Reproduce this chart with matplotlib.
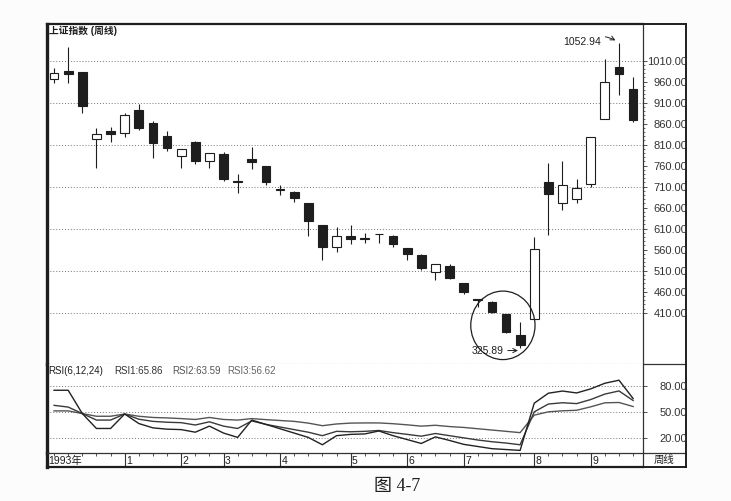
import numpy as np
import matplotlib
matplotlib.use('Agg')
import matplotlib.pyplot as plt
from matplotlib.patches import Ellipse
from matplotlib.ticker import FixedLocator, FormatStrFormatter

plt.rcParams['font.family'] = ['Liberation Sans', 'Noto Sans CJK SC']

# weekly candles
opens = [966, 985, 982, 824, 843, 838, 893, 862, 831, 783, 816, 770, 787, 722,
         776, 758, 705, 698, 670, 619, 566, 593, 588, 597, 593, 563, 547, 508,
         521, 481, 443, 436, 406, 357, 394, 720, 670, 680, 716, 870, 994, 943]
highs = [993, 1043, 982, 850, 853, 885, 907, 866, 843, 799, 818, 790, 793, 740,
         805, 758, 714, 700, 670, 619, 613, 619, 600, 598, 595, 564, 550, 525,
         526, 481, 443, 439, 406, 389, 590, 766, 771, 728, 829, 1013, 1052.94, 970]
lows = [957, 957, 885, 754, 817, 827, 845, 779, 795, 754, 764, 754, 724, 694,
        752, 714, 690, 674, 593, 535, 555, 574, 577, 575, 567, 535, 512, 488,
        490, 455, 424, 410, 361, 325.89, 394, 595, 654, 670, 710, 870, 928, 863]
closes = [981, 978, 903, 835, 836, 881, 850, 815, 801, 799, 772, 790, 728, 721,
          768, 722, 703, 682, 628, 567, 593, 586, 586, 597, 574, 549, 516, 525,
          493, 460, 440, 412, 365, 333, 562, 692, 714, 706, 829, 960, 978, 869]

rsi1 = [75.4, 75.4, 48.5, 31.3, 31.3, 48, 37, 32, 30.5, 30, 27, 34, 26, 21,
        41, 36, 31, 26, 21, 12.5, 23, 24.5, 25, 28.4, 23, 18.5, 14, 21.6,
        17.5, 13, 10.5, 8, 7, 6, 60.5, 72, 74.5, 72.3, 77, 83.5, 87, 65.86]
rsi2 = [58, 56, 48.5, 41, 41, 48, 42, 39.5, 38.5, 38, 35.3, 39, 34, 31.3,
        40, 36, 33, 30, 27, 23, 28, 27.5, 28, 29, 26.5, 24.5, 22.4, 25.5,
        23, 20.5, 18, 16, 14.5, 12.5, 50.5, 59.5, 61, 60, 64.7, 71, 74.6, 63.59]
rsi3 = [51.6, 51.6, 48.5, 45.4, 45.4, 48, 45.4, 44, 43.5, 42.7, 41.7, 44, 41.7, 41,
        42.7, 41.5, 40.5, 39.5, 37.5, 34.5, 36.5, 37.5, 37.7, 37.7, 36.8, 35.5, 34, 35,
        33.5, 32.5, 31, 29.5, 28, 26.5, 46.7, 50.5, 51.7, 52.3, 56.3, 60.9, 61.3, 56.62]

month_pos = [5, 9, 12, 16, 21, 25, 29, 34, 38]
month_labels = ['1', '2', '3', '4', '5', '6', '7', '8', '9']
price_ticks = list(range(410, 1011, 50))
price_grid = list(range(410, 1011, 100))
rsi_ticks = [20, 50, 80]

W, H = 731, 501
def box(l, t, r, b):
    return [l / W, 1 - b / H, (r - l) / W, (b - t) / H]

ink = '#1e1e1e'
dots = (0, (1, 2))
grid_c = '#777'

fig = plt.figure(figsize=(7.31, 5.01), dpi=100)
fig.patch.set_facecolor('#fcfcfc')

# right label column
side = fig.add_axes(box(643, 24, 686, 467))
side.set_xlim(0, 1)
side.set_ylim(467, 24)
side.set_xticks([])
side.set_yticks([])
for s in side.spines.values():
    s.set_linewidth(1.4)
    s.set_color(ink)
side.axhline(364, color='#333', lw=0.9)
side.axhline(453, color='#333', lw=0.9)
side.text(0.5, 460, '周线', ha='center', va='center', fontsize=7.5, color=ink)

xlim = (-0.5, 41.7)
x = np.arange(len(opens))

# price panel
ax = fig.add_axes(box(47, 24, 643, 364))
ax.set_facecolor('white')
ax.set_xlim(*xlim)
ax.set_ylim(288, 1097)
for v in price_grid:
    ax.axhline(v, color=grid_c, lw=0.7, ls=dots, zorder=1)
ax.vlines(x, lows, highs, color=ink, lw=0.8, zorder=2)
for i in x:
    o, c = opens[i], closes[i]
    up = c >= o
    ax.bar(i, max(abs(c - o), 1.5), 0.62, bottom=min(o, c),
           facecolor='white' if up else ink, edgecolor=ink, lw=0.8, zorder=3)

ax.yaxis.tick_right()
ax.set_yticks(price_ticks)
ax.yaxis.set_major_formatter(FormatStrFormatter('%.2f'))
ax.yaxis.set_minor_locator(FixedLocator(np.arange(410, 1011, 10)))
ax.tick_params(axis='y', which='major', length=3, width=0.6, pad=29,
               labelsize=8, colors='#333')
ax.tick_params(axis='y', which='minor', length=1.5, width=0.5, colors='#333')
for lbl in ax.get_yticklabels():
    lbl.set_ha('right')
ax.set_xticks([])
ax.spines['left'].set_linewidth(2.4)
ax.spines['left'].set_color(ink)
ax.spines['top'].set_linewidth(1.6)
ax.spines['top'].set_color(ink)
ax.spines['right'].set_linewidth(0.9)
ax.spines['right'].set_color('#333')
ax.spines['bottom'].set_linestyle(dots)
ax.spines['bottom'].set_color(grid_c)

ax.annotate('1052.94', xy=(39.75, 1058), xytext=(37.4, 1053), ha='center', va='center',
            fontsize=7.5, color=ink,
            arrowprops=dict(arrowstyle='->', connectionstyle='arc3,rad=-0.3',
                            lw=0.7, color=ink, shrinkA=1, shrinkB=0))
ax.annotate('325.89', xy=(32.85, 320), xytext=(30.7, 320), ha='center', va='center',
            fontsize=7.5, color=ink,
            arrowprops=dict(arrowstyle='->', lw=0.7, color=ink, shrinkA=1, shrinkB=0))
ax.add_patch(Ellipse((31.78, 380), 4.55, 163, fill=False, lw=0.9, ec=ink, zorder=4))

fig.text(49 / W, 1 - 31 / H, '上证指数 (周线)', fontsize=7, weight='bold',
         va='center', ha='left', color=ink)

# RSI panel
ar = fig.add_axes(box(47, 364, 643, 453))
ar.set_facecolor('white')
ar.set_xlim(*xlim)
ar.set_ylim(3, 105.7)
for v in rsi_ticks:
    ar.axhline(v, color=grid_c, lw=0.7, ls=dots, zorder=1)
ar.plot(x, rsi3, color='#555', lw=1.0)
ar.plot(x, rsi2, color='#3a3a3a', lw=1.0)
ar.plot(x, rsi1, color='#222', lw=1.0)
ar.yaxis.tick_right()
ar.set_yticks(rsi_ticks)
ar.yaxis.set_major_formatter(FormatStrFormatter('%.2f'))
ar.tick_params(axis='y', length=3, width=0.6, pad=29, labelsize=8, colors='#333')
for lbl in ar.get_yticklabels():
    lbl.set_ha('right')
ar.set_xticks([])
ar.spines['top'].set_visible(False)
ar.spines['bottom'].set_visible(False)
ar.spines['left'].set_linewidth(2.4)
ar.spines['left'].set_color(ink)
ar.spines['right'].set_linewidth(0.9)
ar.spines['right'].set_color('#333')

fig.text(48 / W, 1 - 371 / H, 'RSI(6,12,24)', fontsize=7, va='center', color=ink)
fig.text(114 / W, 1 - 371 / H, 'RSI1:65.86', fontsize=7, va='center', color='#333')
fig.text(172 / W, 1 - 371 / H, 'RSI2:63.59', fontsize=7, va='center', color='#555')
fig.text(227 / W, 1 - 371 / H, 'RSI3:56.62', fontsize=7, va='center', color='#666')

# date strip
ad = fig.add_axes(box(47, 453, 643, 467))
ad.set_facecolor('white')
ad.set_xlim(*xlim)
ad.set_ylim(0, 1)
ad.vlines(x, 0.78, 1.0, color='#333', lw=0.6)
ad.vlines(month_pos, 0, 1, color='#333', lw=0.8)
ad.text(-0.45, 0.42, '1993年', fontsize=7.5, va='center', ha='left', color=ink)
for p, lab in zip(month_pos, month_labels):
    ad.text(p + 0.1, 0.42, lab, fontsize=7.5, va='center', ha='left', color=ink)
ad.set_xticks([])
ad.set_yticks([])
ad.spines['left'].set_linewidth(2.4)
ad.spines['left'].set_color(ink)
ad.spines['bottom'].set_linewidth(1.6)
ad.spines['bottom'].set_color(ink)
ad.spines['top'].set_linewidth(0.9)
ad.spines['top'].set_color('#333')
ad.spines['right'].set_linewidth(0.9)
ad.spines['right'].set_color('#333')

fig.text(397 / W, 1 - 487 / H, '图 4-7', fontsize=13, ha='center', va='center',
         family=['Liberation Serif', 'Noto Sans CJK SC'], color=ink)

fig.savefig('out.png', dpi=100, facecolor=fig.get_facecolor())
